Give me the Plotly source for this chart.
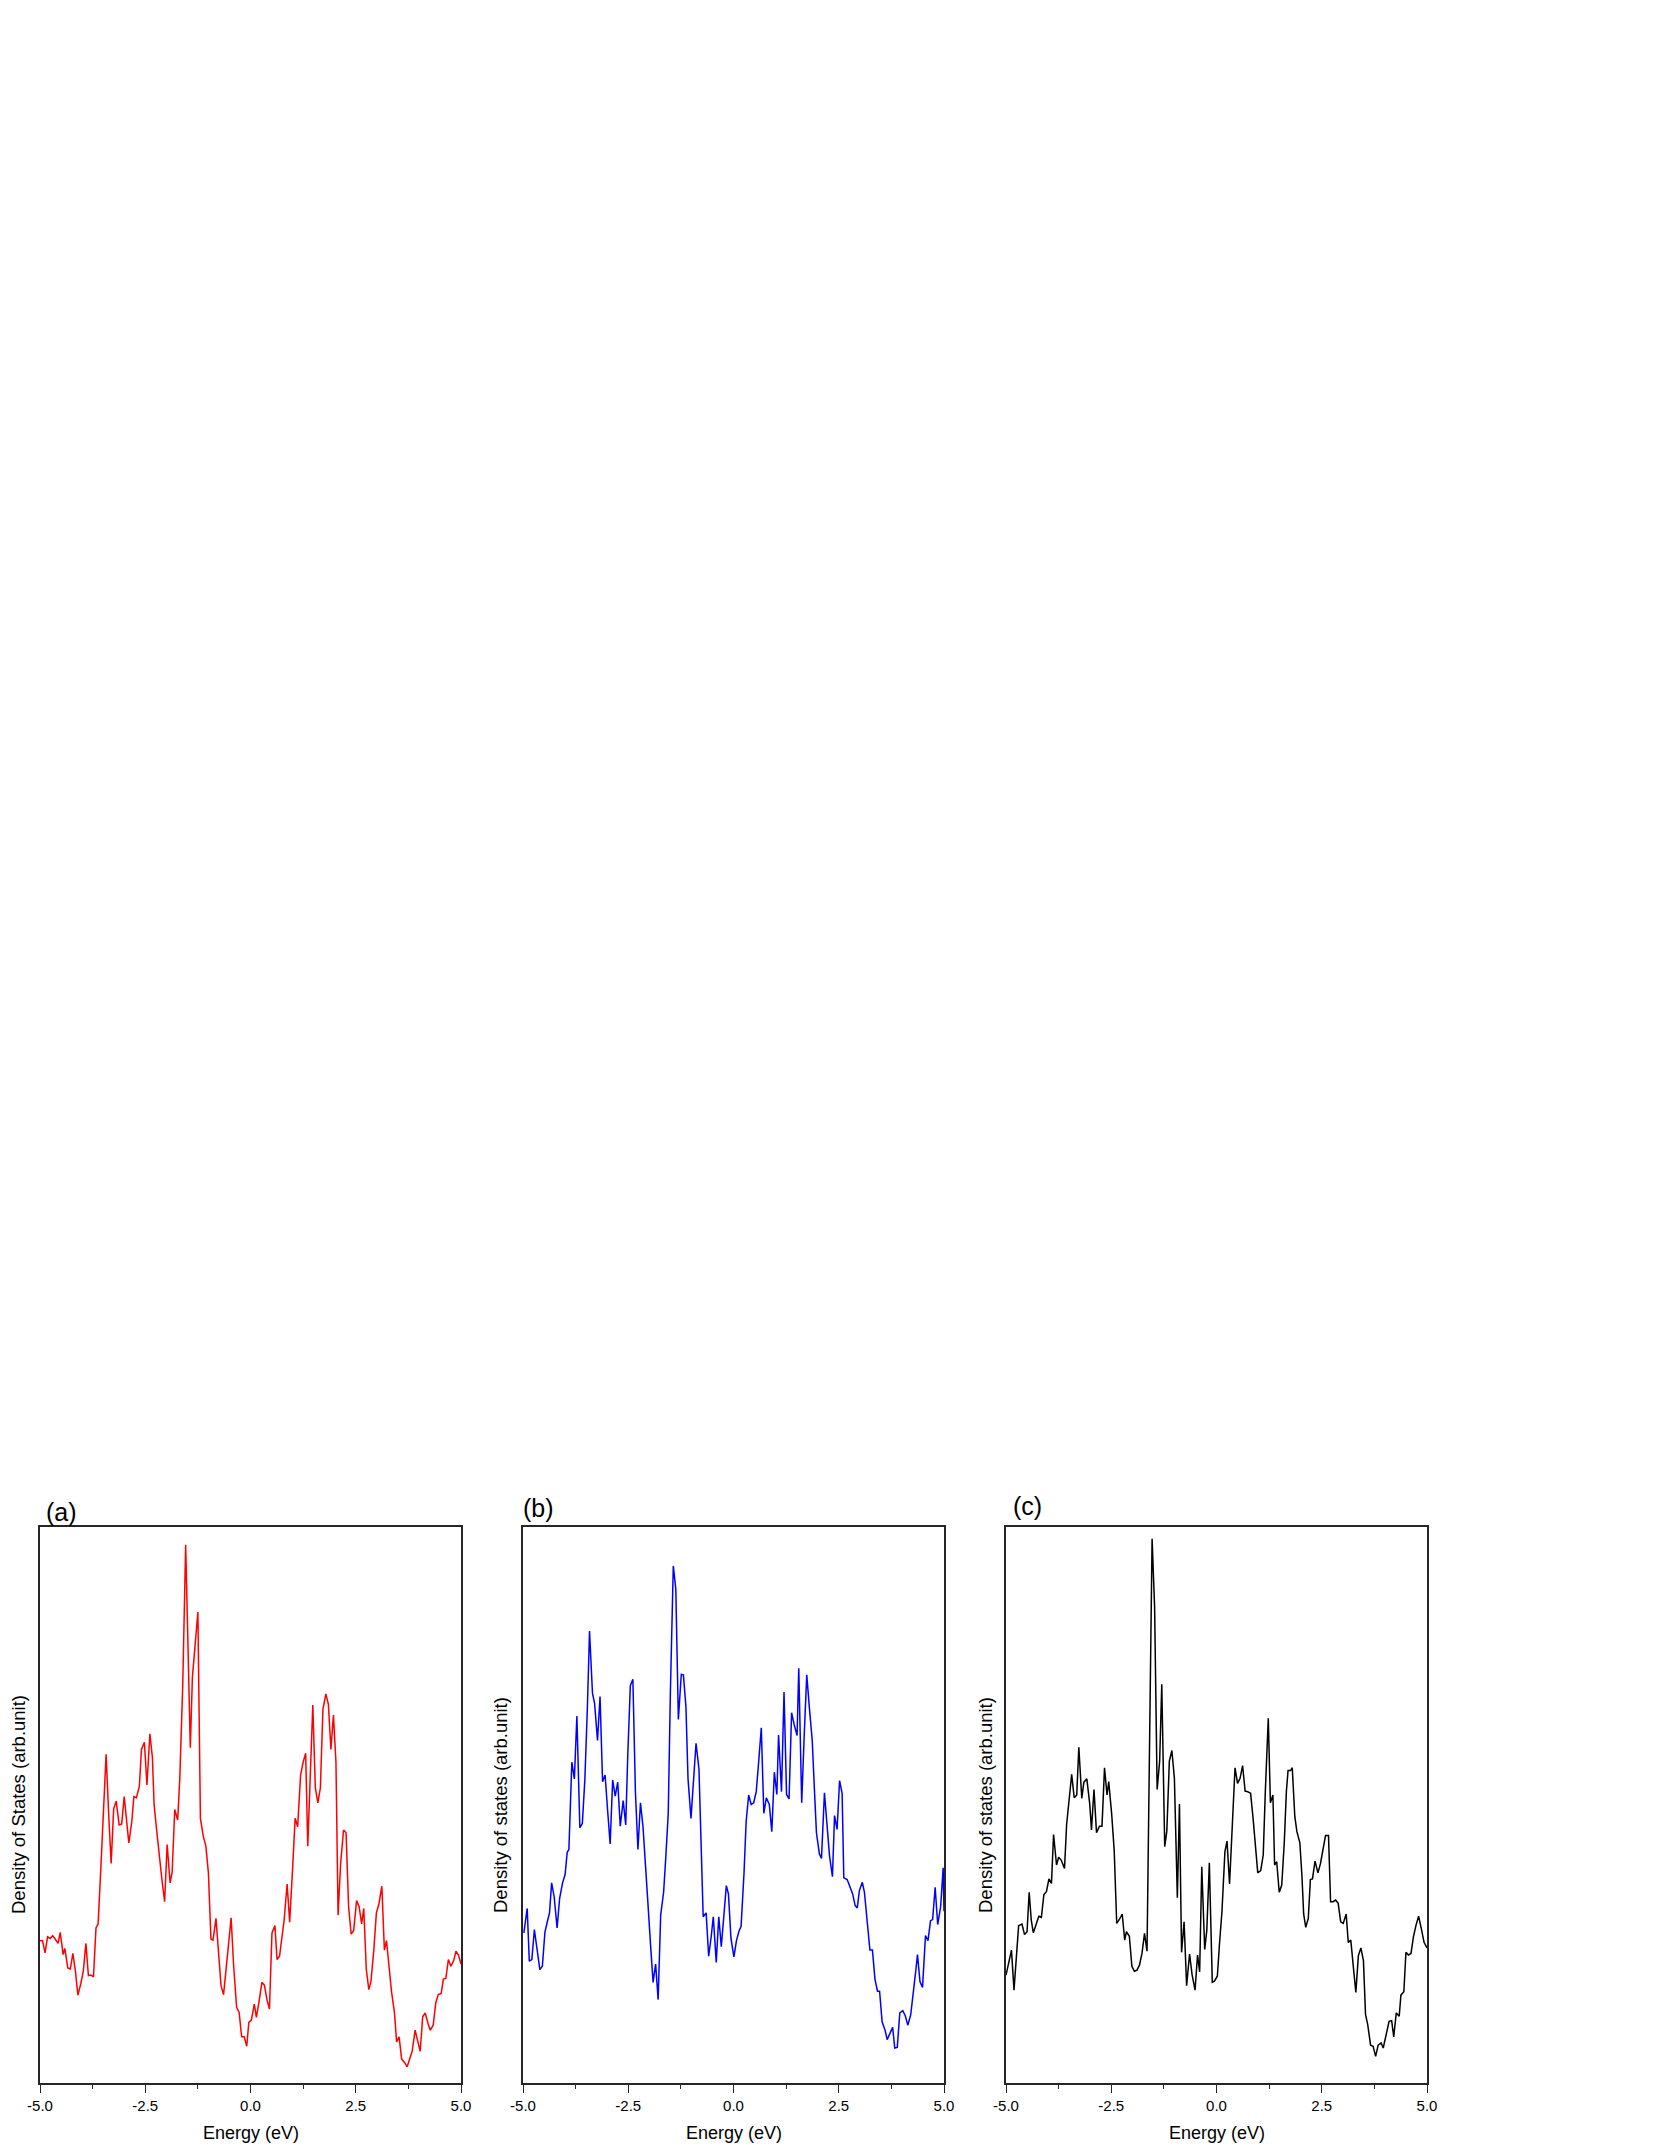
"""
Density of states for three structures, (a) red, (b) blue, (c) black,
plotted side by side on a shared -5..5 eV window.
"""
import plotly.graph_objects as go

# ── data (DOS in arbitrary units 0-100) ─────────────────────────────────────
energy_a = [
    -5.00, -4.94, -4.88, -4.82, -4.76, -4.70, -4.64, -4.57, -4.52, -4.45,
    -4.41, -4.34, -4.28, -4.22, -4.16, -4.10, -4.03, -3.97, -3.91, -3.85,
    -3.79, -3.73, -3.67, -3.62, -3.56, -3.50, -3.43, -3.37, -3.31, -3.25,
    -3.19, -3.12, -3.06, -3.00, -2.94, -2.89, -2.82, -2.77, -2.71, -2.64,
    -2.59, -2.52, -2.46, -2.39, -2.33, -2.29, -2.23, -2.17, -2.10, -2.04,
    -1.98, -1.91, -1.86, -1.80, -1.73, -1.68, -1.61, -1.54, -1.49, -1.43,
    -1.38, -1.31, -1.25, -1.19, -1.12, -1.06, -1.00, -0.94, -0.89, -0.82,
    -0.76, -0.70, -0.64, -0.58, -0.51, -0.46, -0.40, -0.33, -0.27, -0.21,
    -0.15, -0.09, -0.04, 0.02, 0.09, 0.14, 0.21, 0.27, 0.33, 0.39,
    0.45, 0.51, 0.58, 0.63, 0.69, 0.75, 0.80, 0.87, 0.93, 1.00,
    1.06, 1.12, 1.19, 1.25, 1.31, 1.36, 1.42, 1.48, 1.54, 1.60,
    1.66, 1.72, 1.79, 1.85, 1.91, 1.97, 2.03, 2.08, 2.14, 2.21,
    2.27, 2.33, 2.39, 2.45, 2.52, 2.58, 2.64, 2.69, 2.75, 2.81,
    2.86, 2.93, 2.99, 3.05, 3.12, 3.18, 3.23, 3.29, 3.35, 3.42,
    3.47, 3.53, 3.59, 3.66, 3.72, 3.78, 3.84, 3.91, 3.96, 4.03,
    4.09, 4.15, 4.22, 4.27, 4.34, 4.40, 4.46, 4.53, 4.58, 4.64,
    4.70, 4.76, 4.83, 4.88, 4.94, 5.00,
]
dos_a = [
    25.6, 25.6, 23.4, 26.3, 26.0, 26.5, 25.9, 25.1, 27.1, 23.1,
    24.2, 20.7, 20.5, 23.3, 20.2, 15.8, 17.9, 20.2, 25.1, 19.3,
    19.4, 19.1, 27.9, 28.6, 37.8, 48.5, 59.1, 48.5, 39.5, 49.3,
    50.7, 46.4, 46.6, 51.5, 47.0, 43.2, 47.0, 51.5, 51.3, 53.4,
    60.0, 61.3, 53.6, 62.8, 58.5, 50.1, 45.5, 40.9, 36.3, 32.6,
    42.9, 36.0, 38.0, 49.2, 47.3, 54.7, 71.5, 96.8, 77.6, 60.3,
    73.0, 79.2, 84.7, 47.6, 44.3, 42.6, 37.8, 25.9, 25.7, 29.6,
    24.0, 17.5, 15.9, 21.0, 25.6, 29.7, 21.0, 13.6, 12.7, 8.3,
    8.3, 6.6, 10.9, 11.3, 14.2, 11.8, 15.0, 18.1, 17.6, 15.0,
    13.3, 27.0, 28.3, 22.2, 22.8, 26.3, 29.4, 35.8, 28.9, 38.6,
    47.6, 46.1, 55.4, 57.7, 59.3, 42.6, 54.7, 68.0, 53.1, 50.4,
    53.1, 67.2, 70.0, 68.1, 60.0, 66.2, 57.7, 30.2, 39.4, 45.5,
    45.0, 31.7, 26.8, 27.4, 32.8, 31.7, 28.6, 31.4, 20.5, 16.8,
    18.2, 24.0, 30.6, 32.2, 35.4, 23.9, 25.6, 21.0, 16.4, 12.6,
    7.4, 8.3, 4.3, 3.7, 2.9, 4.3, 5.7, 9.5, 8.0, 5.7,
    11.9, 12.6, 10.6, 9.5, 10.4, 14.4, 15.9, 16.1, 18.7, 18.8,
    22.2, 21.0, 22.1, 23.7, 23.0, 21.4,
]

energy_b = [
    -4.98, -4.90, -4.85, -4.79, -4.73, -4.67, -4.60, -4.54, -4.48, -4.41,
    -4.37, -4.32, -4.26, -4.19, -4.13, -4.06, -4.00, -3.95, -3.91, -3.84,
    -3.78, -3.72, -3.65, -3.59, -3.53, -3.47, -3.42, -3.35, -3.30, -3.23,
    -3.17, -3.11, -3.05, -2.99, -2.93, -2.87, -2.81, -2.75, -2.69, -2.62,
    -2.56, -2.51, -2.45, -2.39, -2.33, -2.27, -2.21, -2.15, -2.10, -2.04,
    -1.97, -1.91, -1.85, -1.79, -1.73, -1.66, -1.61, -1.55, -1.50, -1.43,
    -1.37, -1.31, -1.24, -1.19, -1.13, -1.08, -1.01, -0.95, -0.89, -0.82,
    -0.78, -0.72, -0.65, -0.59, -0.53, -0.48, -0.41, -0.35, -0.29, -0.23,
    -0.17, -0.12, -0.06, 0.01, 0.07, 0.13, 0.18, 0.25, 0.30, 0.36,
    0.42, 0.48, 0.54, 0.59, 0.66, 0.72, 0.78, 0.85, 0.91, 0.97,
    1.03, 1.07, 1.14, 1.20, 1.26, 1.32, 1.38, 1.44, 1.51, 1.55,
    1.62, 1.68, 1.74, 1.80, 1.87, 1.92, 1.97, 2.04, 2.09, 2.16,
    2.22, 2.28, 2.35, 2.40, 2.46, 2.52, 2.58, 2.62, 2.70, 2.76,
    2.83, 2.89, 2.94, 2.99, 3.06, 3.11, 3.18, 3.24, 3.30, 3.36,
    3.42, 3.47, 3.53, 3.60, 3.65, 3.72, 3.78, 3.83, 3.89, 3.95,
    4.02, 4.08, 4.14, 4.21, 4.27, 4.33, 4.37, 4.43, 4.49, 4.56,
    4.62, 4.68, 4.73, 4.79, 4.85, 4.92, 4.98, 5.00,
]
dos_b = [
    27.0, 31.4, 21.9, 22.2, 27.6, 24.0, 20.4, 21.0, 27.1, 29.4,
    30.6, 36.0, 33.5, 27.9, 33.2, 36.0, 37.5, 41.5, 42.0, 57.7,
    54.7, 66.0, 45.9, 46.7, 54.7, 67.7, 81.3, 70.1, 68.3, 61.6,
    69.5, 54.2, 55.4, 49.0, 43.0, 54.5, 51.6, 54.1, 46.2, 50.8,
    46.4, 59.3, 71.5, 72.6, 52.4, 42.0, 50.4, 46.1, 39.4, 33.2,
    24.8, 18.1, 21.4, 15.0, 30.2, 34.3, 40.4, 48.5, 70.0, 93.0,
    88.8, 65.4, 73.5, 73.4, 67.7, 54.7, 47.6, 55.4, 61.1, 56.4,
    45.5, 29.9, 30.6, 22.8, 26.3, 29.9, 21.7, 29.9, 24.5, 30.9,
    35.5, 34.0, 26.0, 22.7, 25.6, 27.3, 28.2, 37.8, 47.0, 51.8,
    50.1, 50.4, 52.4, 57.0, 63.9, 48.5, 51.3, 50.1, 45.2, 55.9,
    51.9, 62.6, 52.4, 70.3, 51.9, 51.1, 66.6, 64.5, 62.5, 74.6,
    50.4, 62.6, 73.4, 67.7, 61.6, 53.1, 45.0, 41.2, 40.4, 52.2,
    47.0, 40.9, 37.1, 48.1, 45.6, 54.4, 52.1, 36.9, 36.6, 35.2,
    34.0, 31.9, 31.5, 34.6, 36.1, 34.3, 29.1, 23.9, 23.9, 18.7,
    16.5, 16.5, 11.0, 9.5, 7.8, 9.0, 10.0, 6.3, 6.4, 12.6,
    13.0, 12.1, 10.4, 12.3, 15.9, 20.2, 23.1, 18.2, 17.2, 26.5,
    25.6, 29.2, 29.4, 35.2, 28.5, 31.7, 38.7, 30.9,
]

energy_c = [
    -5.00, -4.94, -4.87, -4.81, -4.75, -4.70, -4.62, -4.56, -4.50, -4.45,
    -4.40, -4.35, -4.29, -4.22, -4.16, -4.10, -4.04, -3.98, -3.92, -3.87,
    -3.80, -3.75, -3.69, -3.61, -3.56, -3.50, -3.44, -3.38, -3.32, -3.27,
    -3.20, -3.15, -3.08, -3.01, -2.97, -2.91, -2.85, -2.78, -2.72, -2.66,
    -2.60, -2.56, -2.49, -2.43, -2.37, -2.30, -2.24, -2.18, -2.14, -2.07,
    -2.01, -1.95, -1.89, -1.83, -1.77, -1.71, -1.65, -1.60, -1.53, -1.47,
    -1.41, -1.35, -1.30, -1.23, -1.18, -1.12, -1.06, -1.00, -0.93, -0.88,
    -0.83, -0.77, -0.71, -0.64, -0.58, -0.51, -0.45, -0.40, -0.35, -0.28,
    -0.23, -0.17, -0.10, -0.05, 0.02, 0.07, 0.13, 0.20, 0.25, 0.31,
    0.38, 0.44, 0.50, 0.56, 0.62, 0.68, 0.74, 0.81, 0.87, 0.93,
    0.98, 1.05, 1.11, 1.16, 1.23, 1.28, 1.34, 1.38, 1.43, 1.49,
    1.55, 1.61, 1.66, 1.70, 1.76, 1.80, 1.86, 1.91, 1.98, 2.03,
    2.07, 2.12, 2.18, 2.23, 2.28, 2.34, 2.41, 2.47, 2.53, 2.59,
    2.66, 2.71, 2.77, 2.83, 2.89, 2.95, 3.01, 3.08, 3.13, 3.19,
    3.25, 3.31, 3.37, 3.43, 3.49, 3.54, 3.59, 3.66, 3.72, 3.78,
    3.84, 3.91, 3.96, 4.03, 4.10, 4.16, 4.21, 4.27, 4.34, 4.38,
    4.45, 4.50, 4.56, 4.62, 4.68, 4.74, 4.80, 4.87, 4.93, 5.00,
]
dos_c = [
    19.4, 21.8, 23.9, 16.7, 22.6, 28.3, 28.6, 26.7, 27.2, 34.3,
    29.3, 27.0, 28.4, 30.0, 29.8, 33.9, 34.4, 36.7, 35.9, 44.7,
    39.2, 40.6, 40.1, 38.6, 46.5, 51.5, 55.5, 51.3, 51.8, 60.4,
    51.2, 54.1, 54.7, 50.1, 45.5, 52.8, 45.0, 46.2, 46.2, 56.7,
    51.8, 54.2, 48.4, 41.8, 28.7, 29.5, 30.4, 25.7, 27.2, 26.4,
    21.0, 20.1, 20.3, 21.2, 23.3, 26.9, 23.7, 54.8, 97.9, 85.6,
    52.8, 57.9, 71.7, 42.5, 45.3, 57.9, 59.8, 54.8, 33.3, 50.2,
    23.5, 29.0, 17.5, 23.2, 19.5, 16.7, 23.0, 20.0, 38.9, 24.0,
    27.5, 39.6, 18.1, 18.3, 19.2, 24.9, 30.9, 41.6, 43.5, 35.8,
    45.9, 56.7, 53.9, 54.8, 57.1, 52.5, 52.4, 52.1, 47.5, 42.9,
    37.8, 38.2, 41.0, 52.5, 65.6, 50.4, 51.8, 39.2, 39.8, 34.3,
    35.6, 43.3, 52.5, 56.2, 56.2, 56.7, 47.9, 45.2, 43.2, 37.2,
    30.4, 28.0, 29.6, 36.6, 36.7, 39.9, 37.8, 39.5, 42.1, 44.5,
    44.5, 32.6, 32.6, 32.9, 32.3, 29.0, 28.7, 30.4, 25.3, 25.7,
    20.9, 16.3, 22.9, 24.3, 22.0, 12.3, 10.6, 6.8, 6.6, 4.8,
    6.8, 7.2, 6.3, 8.9, 11.1, 11.2, 8.3, 12.6, 12.0, 15.8,
    16.4, 23.5, 23.0, 23.3, 26.4, 28.4, 30.0, 27.6, 25.3, 24.3,
]

tick_vals = [-5.0, -2.5, 0.0, 2.5, 5.0]
tick_text = ["-5.0", "-2.5", "0.0", "2.5", "5.0"]
minor_tick_vals = [-3.75, -1.25, 1.25, 3.75]

panel_labels = ["(a)", "(b)", "(c)"]
y_titles = ["Density of States (arb.unit)",
            "Density of states (arb.unit)",
            "Density of states (arb.unit)"]
x_title = "Energy (eV)"
line_colors = ["#ff0000", "#0000ff", "#000000"]

# ── page geometry (pixels of the 1661x2149 page) ───────────────────────────
W, H = 1661, 2149
BOX_X = [(40, 461), (523, 944), (1006, 1427)]
BOX_TOP, BOX_BOTTOM = 1527, 2083
LABEL_POS = [(61, 1512), (538, 1508), (1027, 1506)]
YTITLE_X = [18, 500, 985]
YTITLE_Y = 1805
XTITLE_Y = 2133

FONT = "Liberation Sans, Arial, Helvetica, sans-serif"
AXIS_COLOR = "#262626"

# the plot div should sit flush at the page origin, without scrollbars
PAGE_CSS = ("document.documentElement.style.overflow='hidden';"
            "document.body.style.margin='0';"
            "document.body.style.overflow='hidden';")


def fx(px):
    return px / W


def fy(py):
    return (H - py) / H


fig = go.Figure()
annotations = []
series = [(energy_a, dos_a), (energy_b, dos_b), (energy_c, dos_c)]

for i, (energy, dos) in enumerate(series):
    sfx = "" if i == 0 else str(i + 1)
    x0, x1 = BOX_X[i]
    fig.add_trace(go.Scatter(
        x=energy, y=dos, mode="lines",
        line={"color": line_colors[i], "width": 1.5},
        xaxis="x" + sfx, yaxis="y" + sfx,
        showlegend=False, hoverinfo="skip",
    ))
    fig.layout["xaxis" + sfx] = dict(
        domain=[fx(x0), fx(x1)], anchor="y" + sfx, range=[-5, 5],
        automargin=False,
        showline=True, mirror=True, linecolor=AXIS_COLOR, linewidth=1.5,
        showgrid=False, zeroline=False,
        tickmode="array", tickvals=tick_vals, ticktext=tick_text,
        ticks="outside", ticklen=8, tickwidth=1.3, tickcolor=AXIS_COLOR,
        tickfont={"size": 15, "color": "#000000"},
        minor=dict(tickmode="array", tickvals=minor_tick_vals, ticks="outside",
                   ticklen=4, tickwidth=1.3, tickcolor=AXIS_COLOR),
    )
    fig.layout["yaxis" + sfx] = dict(
        domain=[fy(BOX_BOTTOM), fy(BOX_TOP)], anchor="x" + sfx, range=[0, 100],
        automargin=False,
        showline=True, mirror=True, linecolor=AXIS_COLOR, linewidth=1.5,
        showgrid=False, zeroline=False, showticklabels=False, ticks="",
    )
    lx, ly = LABEL_POS[i]
    annotations.append(dict(
        text=panel_labels[i], x=fx(lx), y=fy(ly), xref="paper", yref="paper",
        xanchor="center", yanchor="middle", showarrow=False,
        font={"size": 25, "color": "#000000"},
    ))
    annotations.append(dict(
        text=y_titles[i], x=fx(YTITLE_X[i]), y=fy(YTITLE_Y),
        xref="paper", yref="paper", xanchor="center", yanchor="middle",
        textangle=-90, showarrow=False, font={"size": 18.5, "color": "#000000"},
    ))
    annotations.append(dict(
        text=x_title, x=fx((x0 + x1) / 2), y=fy(XTITLE_Y),
        xref="paper", yref="paper", xanchor="center", yanchor="middle",
        showarrow=False, font={"size": 18, "color": "#000000"},
    ))

fig.update_layout(
    template="none",
    width=W, height=H,
    margin={"l": 0, "r": 0, "t": 0, "b": 0, "pad": 0, "autoexpand": False},
    paper_bgcolor="#ffffff", plot_bgcolor="#ffffff",
    font={"family": FONT, "color": "#000000"},
    showlegend=False,
    annotations=annotations,
)

fig.write_html("out.html", config={"displayModeBar": False}, post_script=PAGE_CSS)
